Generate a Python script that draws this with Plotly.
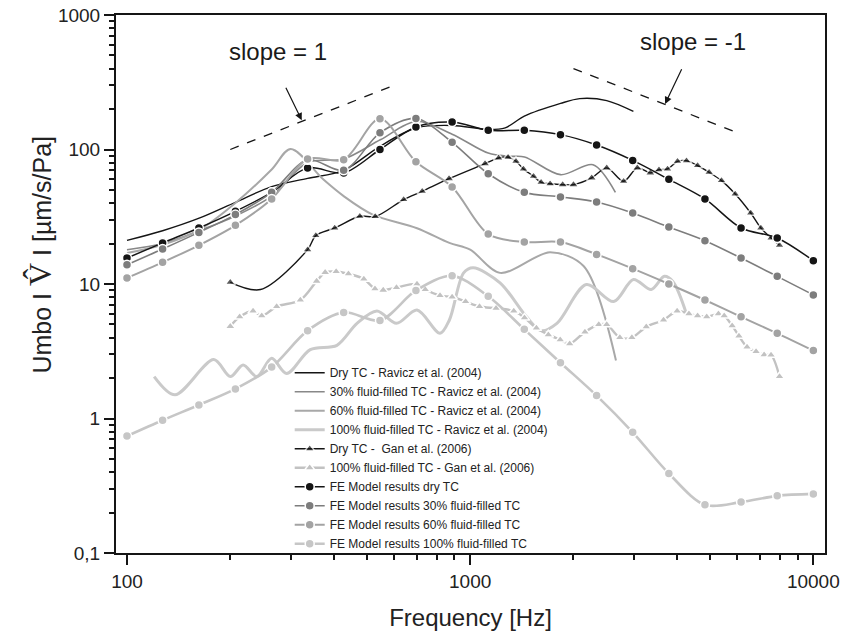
import math
import plotly.graph_objects as go

# ---------------- data ----------------
fe_freq = [100, 127, 162, 207, 264, 336, 428, 546, 695, 886, 1129, 1438, 1833, 2336, 2976, 3793, 4833, 6158, 7848, 10000]
fe_dry = [15.6, 20.2, 26.1, 34.7, 48.0, 73, 67, 100, 147, 160, 139, 139, 129, 108, 83, 60, 42.9, 26.1, 22, 14.9]
fe_30 = [13.9, 18.2, 24.2, 32.8, 48, 84, 70, 133, 170, 113, 66, 48, 44.4, 40.7, 33.7, 26.5, 21, 15.6, 11.4, 8.3]
fe_60 = [11.1, 14.5, 19.4, 27.3, 42.9, 85, 84, 169, 81, 52.7, 23.5, 20.5, 20.5, 16.6, 13, 10, 7.6, 5.7, 4.3, 3.2]
fe_100 = [0.74, 0.97, 1.26, 1.66, 2.41, 4.5, 6.15, 5.36, 8.95, 11.5, 8.1, 4.6, 2.6, 1.48, 0.79, 0.39, 0.228, 0.239, 0.266, 0.275]

rav_dry_f = [100, 127, 163, 207, 264, 336, 428, 547, 697, 886, 1129, 1265, 1438, 1834, 2085, 2500, 2990]
rav_dry_v = [21.1, 24.9, 31, 40.5, 53, 61, 70, 106, 145, 151, 141, 145, 177, 220, 239, 231, 192]

rav_30_f = [100, 127, 163, 207, 264, 336, 428, 547, 697, 886, 1129, 1300, 1440, 1834, 2280, 2650]
rav_30_v = [18, 20, 25, 32, 45, 80, 85, 118, 162, 130, 94, 89, 88, 65, 77, 48]

rav_60_f = [100, 127, 163, 207, 264, 300, 373, 428, 520, 700, 870, 1000, 1222, 1710, 2140, 2660]
rav_60_v = [17, 19.6, 25.4, 40, 71, 101, 60, 45, 32.8, 26, 20.2, 18, 12.1, 17.2, 13.6, 2.7]

rav_100_f = [120, 138, 179, 200, 218, 239, 264, 292, 342, 409, 468, 535, 610, 700, 817, 870, 957, 1020,
             1222, 1460, 1610, 1790, 2180, 2620, 2990, 3370, 3680, 3900, 4260]
rav_100_v = [2.05, 1.5, 2.74, 2.05, 2.5, 2.05, 2.8, 2.16, 3.25, 3.5, 5.1, 6.3, 5.1, 6.4, 4.3, 5.4, 12.1, 13.2,
             10.2, 5.7, 4.5, 5.1, 9.9, 7.4, 10.8, 9.1, 11.4, 10.4, 6.1]

gan_dry_f = [200, 245, 336, 355, 403, 477, 529, 640, 725, 868, 1105, 1210, 1290, 1360, 1430, 1530, 1610, 1710,
             1860, 2000, 2260, 2500, 2800, 3070, 3350, 3550, 3760, 4020, 4270, 4600, 4970, 5400, 5920, 6570,
             7030, 7530, 7970]
gan_dry_v = [10.3, 9.1, 18, 22.9, 26.1, 31.9, 31.7, 42.4, 48.9, 60.7, 78.5, 86.5, 87.5, 81.7, 71.7, 63.2, 57, 55.7,
             54.8, 54.8, 61.5, 73, 58, 73, 67, 70.8, 71.7, 81.7, 82.6, 75.9, 67.6, 58.7, 46.7, 33.7,
             26.1, 22, 19.4]
gan_dry_unmarked = [245]

gan_100_f = [200, 213, 233, 247, 273, 320, 357, 378, 407, 442, 490, 528, 558, 610, 700, 740, 817, 886, 970,
             1065, 1190, 1340, 1440, 1560, 1690, 1830, 1950, 2160, 2370, 2500, 2730, 2960, 3260, 3660, 4010,
             4340, 4600, 4890, 5290, 5500, 5800, 6070, 6410, 6810, 7190, 7530, 7970]
gan_100_v = [4.84, 5.7, 6.3, 5.8, 6.8, 7.6, 10.5, 12.2, 12.4, 11.9, 10.9, 9.2, 9.0, 9.4, 10, 9.1, 8.2, 8.0, 7.4,
             6.8, 6.6, 6.3, 5.6, 4.7, 4.2, 3.85, 3.6, 4.4, 5.0, 5.0, 4.0, 4.0, 4.8, 5.4, 6.3,
             6.0, 5.8, 5.7, 6.0, 5.8, 4.9, 4.1, 3.4, 3.15, 2.98, 2.96, 2.05]

slope_up_f = [200, 600]
slope_up_v = [100, 300]
slope_down_f = [2000, 6000]
slope_down_v = [400, 133.3]

x_tickvals = [100, 1000, 10000]
x_ticktext = ["100", "1000", "10000"]
y_tickvals = [0.1, 1, 10, 100, 1000]
y_ticktext = ["0,1", "1", "10", "100", "1000"]

# ---------------- styles ----------------
BLACK = "#151515"
G30 = "#7d7d7d"
G60 = "#a3a3a3"
G100 = "#c6c6c6"
FONT = "Liberation Sans, Arial, sans-serif"

fig = go.Figure()


def line_trace(f, v, name, color, width):
    fig.add_trace(go.Scatter(x=f, y=v, mode="lines", name=name,
                             line=dict(color=color, width=width, shape="spline", smoothing=0.9)))


def marker_trace(f, v, name, color, width, symbol, sizes=None, msize=8):
    fig.add_trace(go.Scatter(x=f, y=v, mode="lines+markers", name=name,
                             line=dict(color=color, width=width, shape="spline", smoothing=0.9),
                             marker=dict(symbol=symbol, color=color, size=sizes if sizes else msize,
                                         line=dict(color="white", width=1.5))))


line_trace(rav_dry_f, rav_dry_v, "Dry TC - Ravicz et al. (2004)", BLACK, 1.4)
line_trace(rav_30_f, rav_30_v, "30% fluid-filled TC - Ravicz et al. (2004)", "#888888", 1.6)
line_trace(rav_60_f, rav_60_v, "60% fluid-filled TC - Ravicz et al. (2004)", "#a8a8a8", 2.0)
line_trace(rav_100_f, rav_100_v, "100% fluid-filled TC - Ravicz et al. (2004)", "#cacaca", 3.0)

gan_sizes = [0 if f in gan_dry_unmarked else 9 for f in gan_dry_f]
marker_trace(gan_dry_f, gan_dry_v, "Dry TC -  Gan et al. (2006)", BLACK, 1.4, "triangle-up", sizes=gan_sizes)
marker_trace(gan_100_f, gan_100_v, "100% fluid-filled TC - Gan et al. (2006)", "#c2c2c2", 2.4, "triangle-up", msize=9)

marker_trace(fe_freq, fe_dry, "FE Model results dry TC", BLACK, 1.5, "circle", msize=9)
marker_trace(fe_freq, fe_30, "FE Model results 30% fluid-filled TC", G30, 1.6, "circle", msize=9)
marker_trace(fe_freq, fe_60, "FE Model results 60% fluid-filled TC", G60, 2.0, "circle", msize=9)
marker_trace(fe_freq, fe_100, "FE Model results 100% fluid-filled TC", G100, 2.6, "circle", msize=9)

# slope reference lines
fig.add_trace(go.Scatter(x=slope_up_f, y=slope_up_v, mode="lines", showlegend=False,
                         line=dict(color=BLACK, width=1.3, dash="dash")))
fig.add_trace(go.Scatter(x=slope_down_f, y=slope_down_v, mode="lines", showlegend=False,
                         line=dict(color=BLACK, width=1.3, dash="dash")))


def L(v):
    return math.log10(v)


annotations = [
    dict(x=L(276), y=L(535), text="slope = 1", showarrow=False, font=dict(size=24, color="#1a1a1a", family=FONT)),
    dict(x=L(4463), y=L(635), text="slope = -1", showarrow=False, font=dict(size=24, color="#1a1a1a", family=FONT)),
    dict(x=L(323), y=L(165), ax=L(289), ay=L(295), xref="x", yref="y", axref="x", ayref="y", text="",
         showarrow=True, arrowhead=2, arrowsize=1.2, arrowwidth=1.2, arrowcolor=BLACK),
    dict(x=L(3698), y=L(218), ax=L(4153), ay=L(405), xref="x", yref="y", axref="x", ayref="y", text="",
         showarrow=True, arrowhead=2, arrowsize=1.2, arrowwidth=1.2, arrowcolor=BLACK),
    dict(x=-0.107, y=0.555, xref="paper", yref="paper", textangle=-90, showarrow=False,
         xanchor="center", yanchor="middle",
         text='Umbo I <span style="font-family:Liberation Serif;font-size:32px">V\u0302</span> I [\u00b5m/s/Pa]',
         font=dict(size=25, family=FONT, color="#222222")),
]

fig.update_layout(
    width=843, height=639,
    margin=dict(l=116, r=18, t=15, b=86),
    paper_bgcolor="white", plot_bgcolor="white",
    font=dict(family=FONT, color="#222222"),
    showlegend=True,
    legend=dict(x=0.245, y=0.362, xanchor="left", yanchor="top", bgcolor="rgba(0,0,0,0)",
                font=dict(size=12, family=FONT, color="#222222"), tracegroupgap=0, itemwidth=30),
    annotations=annotations,
    xaxis=dict(type="log", range=[1.968, 4.034], tickmode="array", tickvals=x_tickvals, ticktext=x_ticktext,
               ticks="outside", ticklen=10, tickwidth=2, tickcolor=BLACK, automargin=False,
               showline=True, linewidth=2, linecolor=BLACK, mirror=True, showgrid=False, zeroline=False,
               tickfont=dict(size=19, family=FONT, color="#222222"),
               minor=dict(ticks="outside", ticklen=5, tickwidth=1.5, tickcolor=BLACK, dtick="D1", showgrid=False),
               title=dict(text="Frequency [Hz]", font=dict(size=24, family=FONT, color="#222222"), standoff=18)),
    yaxis=dict(type="log", range=[-1, 3], tickmode="array", tickvals=y_tickvals, ticktext=y_ticktext,
               ticks="outside", ticklen=10, tickwidth=2, tickcolor=BLACK, automargin=False,
               showline=True, linewidth=2, linecolor=BLACK, mirror=True, showgrid=False, zeroline=False,
               tickfont=dict(size=19, family=FONT, color="#222222"),
               minor=dict(ticks="outside", ticklen=5, tickwidth=1.5, tickcolor=BLACK, dtick="D1", showgrid=False)),
)

fig.write_html("out.html", config={"displayModeBar": False},
               post_script="document.body.style.margin='0';")
